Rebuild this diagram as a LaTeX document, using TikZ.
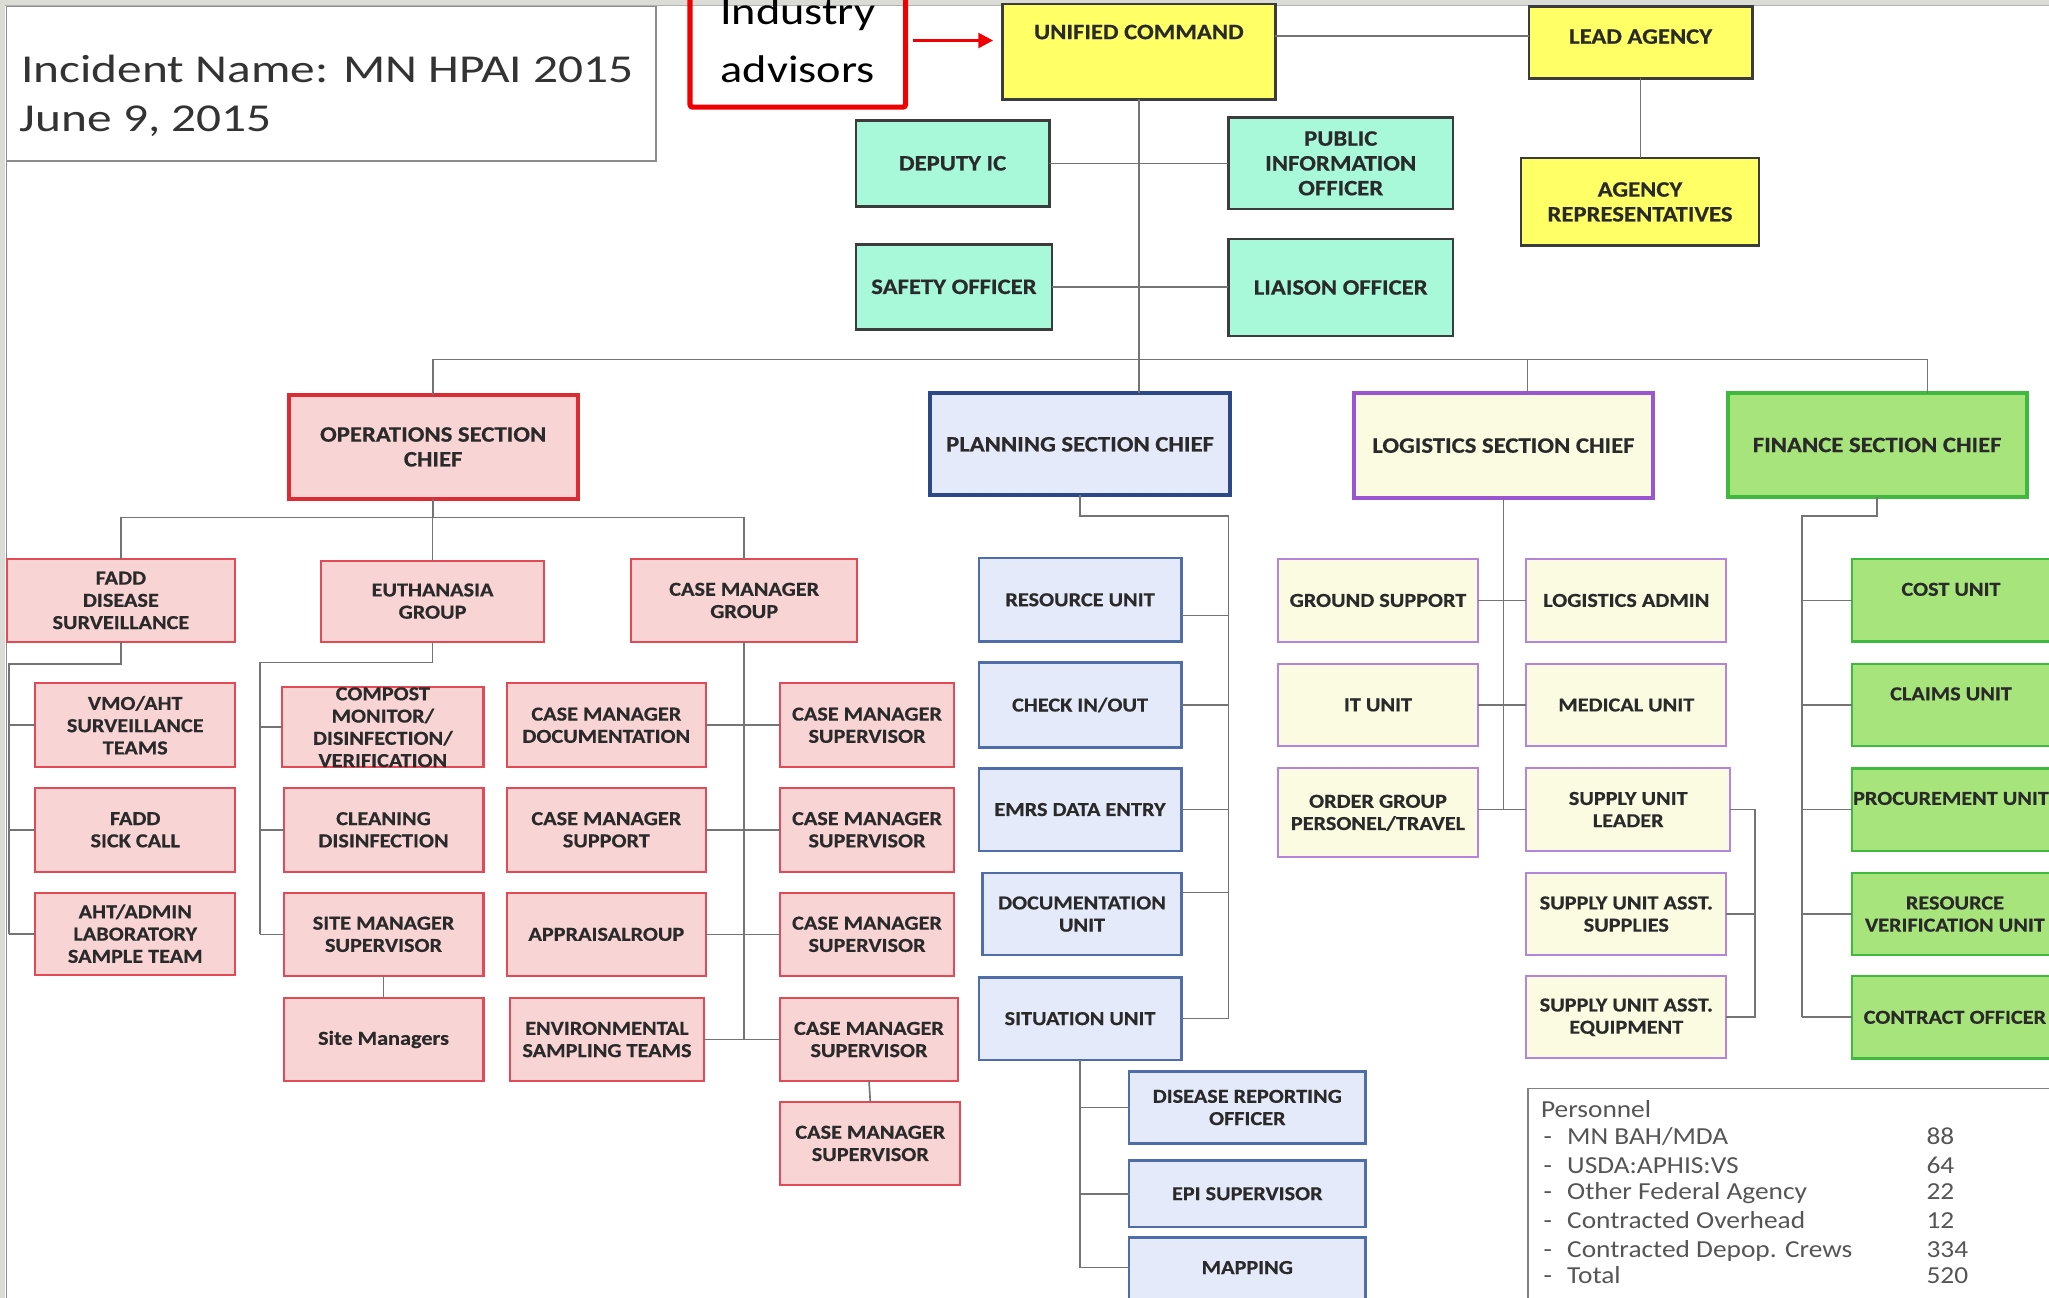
\documentclass[tikz,border=0pt]{standalone}
\usepackage{fontspec}
\setmainfont{Carlito}[FakeStretch=1.12, BoldFeatures={FakeBold=0.5}]
\newfontfamily\titlefont{Carlito}[FakeStretch=1.25]
\newfontfamily\indfont{Carlito}[FakeStretch=1.2]
\usetikzlibrary{calc,arrows.meta}
\newcommand{\bxfont}{\fontsize{10.8}{12.1}\selectfont\bfseries}
\newcommand{\bigfont}{\fontsize{12}{13.5}\selectfont\bfseries}
\newcommand{\bx}[7]{\node[#1, minimum width={(#5-(#3))*0.025cm}, minimum height={(#6-(#4))*0.025cm}] (#2) at ({(#3+#5)/2},{(#4+#6)/2}) {#7};}
\definecolor{yelF}{HTML}{FFFF66}
\definecolor{topB}{HTML}{3C3C3C}
\definecolor{mintF}{HTML}{A8F8DA}
\definecolor{opsF}{HTML}{F9D4D5}
\definecolor{opsB}{HTML}{E24A55}
\definecolor{opsCB}{HTML}{DC2B33}
\definecolor{planF}{HTML}{E5EAFA}
\definecolor{planB}{HTML}{4F6DA8}
\definecolor{planCB}{HTML}{2C4888}
\definecolor{logF}{HTML}{FBFBE2}
\definecolor{logB}{HTML}{B585DA}
\definecolor{logCB}{HTML}{9B55D0}
\definecolor{finF}{HTML}{A8E47C}
\definecolor{finB}{HTML}{3FBA3F}
\definecolor{lineC}{HTML}{747474}
\definecolor{txt}{HTML}{2A2A2A}
\definecolor{persT}{HTML}{555555}
\definecolor{frameC}{HTML}{DCDCD6}
\definecolor{indR}{HTML}{F00000}
\tikzset{
  basebox/.style={rectangle, inner sep=0pt, outer sep=0pt, align=center, font=\bxfont, text=txt},
  bt/.style={inner sep=0pt, align=center, font=\bxfont, text=txt},
  btbig/.style={inner sep=0pt, align=center, font=\bigfont, text=txt},
  yelbox/.style={basebox, font=\bigfont, fill=yelF, draw=topB, line width=1.4pt},
  mintbox/.style={basebox, font=\bigfont, fill=mintF, draw=topB, line width=1.4pt},
  opschief/.style={basebox, font=\bigfont, fill=opsF, draw=opsCB, line width=2.2pt},
  planchief/.style={basebox, font=\bigfont, fill=planF, draw=planCB, line width=2.2pt},
  logchief/.style={basebox, font=\bigfont, fill=logF, draw=logCB, line width=2.2pt},
  finchief/.style={basebox, font=\bigfont, fill=finF, draw=finB, line width=2.2pt},
  opsbox/.style={basebox, fill=opsF, draw=opsB, line width=1.1pt},
  planbox/.style={basebox, fill=planF, draw=planB, line width=1.3pt},
  logbox/.style={basebox, fill=logF, draw=logB, line width=1.1pt},
  finbox/.style={basebox, fill=finF, draw=finB, line width=1.3pt},
  titlebox/.style={rectangle, inner sep=0pt, draw=black!45, line width=1pt},
  persbox/.style={rectangle, inner sep=0pt, draw=black!50, line width=1pt, fill=white},
  indbox/.style={rectangle, inner sep=0pt, draw=indR, line width=2.8pt, rounded corners=1.5pt},
  indtxt/.style={inner sep=0pt, font=\indfont\fontsize{21}{25}\selectfont, text=black},
  titletxt/.style={inner sep=0pt, font=\titlefont\fontsize{21.5}{26}\selectfont, text=black!80},
  perstxt/.style={inner sep=0pt, font=\fontsize{13.3}{16}\selectfont, text=persT},
  conn/.style={draw=lineC, line width=0.9pt},
  indarrow/.style={draw=indR, line width=1.6pt, -{Triangle[length=8pt,width=8pt]}}
}
\begin{document}
\begin{tikzpicture}[x=0.025cm,y=-0.025cm]
\useasboundingbox (0,0) rectangle (1568,993);
\clip (0,0) rectangle (1568,993);
\fill[white] (0,0) rectangle (1568,993);
% screen frame
\fill[frameC] (0,0) rectangle (1568,4);
\fill[frameC] (0,0) rectangle (4,993);
\draw[black!45, line width=0.8pt] (5,4) -- (5,993);
\draw[black!30, line width=0.6pt] (4,4.5) -- (1568,4.5);

% title
\bx{titlebox}{title}{5}{5}{502}{123}{}
\node[titletxt, anchor=base west] (t1) at (16,63) {Incident Name: MN HPAI 2015};
\node[titletxt, anchor=base west] (t2) at (15,101) {June 9, 2015};

% industry advisors
\bx{indbox}{ind}{528}{-30}{693}{82}{}
\node[indtxt, anchor=base] (indA) at (610.5,19) {Industry};
\node[indtxt, anchor=base] (indB) at (610.5,63) {advisors};

% command staff
\bx{yelbox}{uc}{767}{3}{976}{76}{}
\node[btbig] (ucT) at ($(uc.center)+(0,-15)$) {UNIFIED COMMAND};
\bx{yelbox}{lead}{1170}{5}{1341}{60}{}
\node[btbig] (leadT) at ($(lead.center)+(0,-4.5)$) {LEAD AGENCY};
\bx{yelbox}{agrep}{1164}{121}{1346}{188}{AGENCY\\REPRESENTATIVES}
\bx{mintbox}{dep}{655}{92}{803}{158}{DEPUTY IC}
\bx{mintbox}{pio}{940}{90}{1112}{160}{PUBLIC\\INFORMATION\\OFFICER}
\bx{mintbox}{safe}{655}{187}{805}{252}{SAFETY OFFICER}
\bx{mintbox}{liai}{940}{183}{1112}{257}{LIAISON OFFICER}

% section chiefs
\bx{opschief}{ops}{221}{302}{442}{382}{OPERATIONS SECTION\\CHIEF}
\bx{planchief}{plan}{712}{301}{941}{379}{PLANNING SECTION CHIEF}
\bx{logchief}{logs}{1036}{301}{1265}{381}{LOGISTICS SECTION CHIEF}
\bx{finchief}{fin}{1322}{301}{1551}{380}{FINANCE SECTION CHIEF}

% operations
\bx{opsbox}{fadd}{5}{428}{180}{491}{FADD\\DISEASE\\SURVEILLANCE}
\bx{opsbox}{euth}{246}{429}{416}{491}{EUTHANASIA\\GROUP}
\bx{opsbox}{cmg}{483}{428}{656}{491}{CASE MANAGER\\GROUP}
\bx{opsbox}{vmo}{27}{523}{180}{587}{VMO/AHT\\SURVEILLANCE\\TEAMS}
\bx{opsbox}{sick}{27}{603}{180}{667}{FADD\\SICK CALL}
\bx{opsbox}{aht}{27}{683}{180}{746}{AHT/ADMIN\\LABORATORY\\SAMPLE TEAM}
\bx{opsbox}{comp}{216}{526}{370}{587}{COMPOST\\MONITOR/\\DISINFECTION/\\VERIFICATION}
\bx{opsbox}{clean}{217}{603}{370}{667}{CLEANING\\DISINFECTION}
\bx{opsbox}{smsup}{217}{683}{370}{747}{SITE MANAGER\\SUPERVISOR}
\bx{opsbox}{sitem}{217}{764}{370}{827}{Site Managers}
\bx{opsbox}{cmdoc}{388}{523}{540}{587}{CASE MANAGER\\DOCUMENTATION}
\bx{opsbox}{cmsupp}{388}{603}{540}{667}{CASE MANAGER\\SUPPORT}
\bx{opsbox}{appr}{388}{683}{540}{747}{APPRAISALROUP}
\bx{opsbox}{env}{390}{764}{539}{827}{ENVIRONMENTAL\\SAMPLING TEAMS}
\bx{opsbox}{cmsA}{597}{523}{730}{587}{CASE MANAGER\\SUPERVISOR}
\bx{opsbox}{cmsB}{597}{603}{730}{667}{CASE MANAGER\\SUPERVISOR}
\bx{opsbox}{cmsC}{597}{683}{730}{747}{CASE MANAGER\\SUPERVISOR}
\bx{opsbox}{cmsD}{597}{764}{733}{827}{CASE MANAGER\\SUPERVISOR}
\bx{opsbox}{cmsE}{597}{843}{735}{907}{CASE MANAGER\\SUPERVISOR}

% planning
\bx{planbox}{ru}{749}{427}{904}{491}{RESOURCE UNIT}
\bx{planbox}{cio}{749}{507}{904}{572}{CHECK IN/OUT}
\bx{planbox}{emrs}{749}{588}{904}{651}{EMRS DATA ENTRY}
\bx{planbox}{doc}{752}{668}{904}{731}{DOCUMENTATION\\UNIT}
\bx{planbox}{sit}{749}{748}{904}{811}{SITUATION UNIT}
\bx{planbox}{dro}{864}{820}{1045}{875}{DISEASE REPORTING\\OFFICER}
\bx{planbox}{epi}{864}{888}{1045}{939}{EPI SUPERVISOR}
\bx{planbox}{mapp}{864}{947}{1045}{1000}{}
\node[bt] (mappT) at ($(mapp.center)+(0,-3.5)$) {MAPPING};

% logistics
\bx{logbox}{gs}{978}{428}{1131}{491}{GROUND SUPPORT}
\bx{logbox}{la}{1168}{428}{1321}{491}{LOGISTICS ADMIN}
\bx{logbox}{itu}{978}{508}{1131}{571}{IT UNIT}
\bx{logbox}{med}{1168}{508}{1321}{571}{MEDICAL UNIT}
\bx{logbox}{og}{978}{588}{1131}{656}{ORDER GROUP\\PERSONEL/TRAVEL}
\bx{logbox}{sul}{1168}{588}{1324}{651}{SUPPLY UNIT\\LEADER}
\bx{logbox}{sus}{1168}{668}{1321}{731}{SUPPLY UNIT ASST.\\SUPPLIES}
\bx{logbox}{sue}{1168}{747}{1321}{810}{SUPPLY UNIT ASST.\\EQUIPMENT}

% finance
\bx{finbox}{cost}{1417}{428}{1575}{491}{}
\node[bt] (costT) at ($(cost.center)+(-3,-8.5)$) {COST UNIT};
\bx{finbox}{claims}{1417}{508}{1575}{571}{}
\node[bt] (claimsT) at ($(claims.center)+(-3,-8.5)$) {CLAIMS UNIT};
\bx{finbox}{proc}{1417}{588}{1575}{651}{}
\node[bt] (procT) at ($(proc.center)+(-3,-8.5)$) {PROCUREMENT UNIT};
\bx{finbox}{rvu}{1417}{668}{1575}{731}{RESOURCE\\VERIFICATION UNIT}
\bx{finbox}{co}{1417}{747}{1575}{810}{CONTRACT OFFICER}

% personnel
\bx{persbox}{pers}{1169}{833}{1600}{1010}{}
\node[perstxt, anchor=base west] (p0) at (1179,855) {Personnel};
\foreach \yy/\lab/\num [count=\i] in {876/{MN BAH/MDA}/88, 898/USDA:APHIS:VS/64, 918/Other Federal Agency/22, 940/Contracted Overhead/12, 962/Contracted Depop. Crews/334, 982/Total/520}{
  \node[perstxt, anchor=base west] (pb\i) at (1181,\yy) {-};
  \node[perstxt, anchor=base west] (pl\i) at (1199,\yy) {\lab};
  \node[perstxt, anchor=base west] (pn\i) at (1474,\yy) {\num};
}

% ---------- connectors ----------
\draw[indarrow] ($(ind.east)+(4,5)$) -- ($(uc.west)+(-7,-8.5)$);
\path ($(lead.west)+(0,-5)$) coordinate (leadW);
\draw[conn] (leadW) -- (leadW -| uc.east);
\draw[conn] (lead.south) -- (lead.south |- agrep.north);
\draw[conn] (uc.south) -- (uc.south |- plan.north);
\draw[conn] (dep.east) -- (dep.east -| pio.west);
\draw[conn] (safe.east) -- (safe.east -| liai.west);
\coordinate (busL) at (331.5,275);
\coordinate (busLog) at (1169,275);
\coordinate (busR) at (1475,275);
\draw[conn] (ops.north) -- (busL) -- (busR) -- (busR |- fin.north);
\draw[conn] (busLog) -- (busLog |- logs.north);

% operations connectors
\coordinate (opsBus) at (331.5,396);
\draw[conn] (ops.south) -- (opsBus);
\draw[conn] (fadd.north) -- (fadd.north |- opsBus) -- (cmg.north |- opsBus) -- (cmg.north);
\draw[conn] (euth.north) -- (euth.north |- opsBus);
\coordinate (faddL) at (7,508);
\draw[conn] (fadd.south) |- (faddL) -- (faddL |- aht.west);
\draw[conn] (vmo.west) -- (vmo.west -| faddL);
\draw[conn] (sick.west) -- (sick.west -| faddL);
\draw[conn] (aht.west) -- (aht.west -| faddL);
\coordinate (euthL) at (199,507);
\draw[conn] (euth.south) |- (euthL) -- (euthL |- smsup.west);
\draw[conn] (comp.west) -- (comp.west -| euthL);
\draw[conn] (clean.west) -- (clean.west -| euthL);
\draw[conn] (smsup.west) -- (smsup.west -| euthL);
\draw[conn] (smsup.south) -- (smsup.south |- sitem.north);
\draw[conn] (cmg.south) -- (cmg.south |- env.east);
\draw[conn] (cmdoc.east) -- (cmdoc.east -| cmsA.west);
\draw[conn] (cmsupp.east) -- (cmsupp.east -| cmsB.west);
\draw[conn] (appr.east) -- (appr.east -| cmsC.west);
\draw[conn] (env.east) -- (env.east -| cmsD.west);
\draw[conn] (cmsD.south) -- (cmsE.north);

% planning connectors
\coordinate (planR) at (940,395);
\draw[conn] (plan.south) |- (planR) -- (planR |- sit.east);
\path ($(ru.east)+(0,12)$) coordinate (ruC);
\draw[conn] (ruC) -- (ruC -| planR);
\draw[conn] (cio.east) -- (cio.east -| planR);
\draw[conn] (emrs.east) -- (emrs.east -| planR);
\path ($(doc.east)+(0,-16.5)$) coordinate (docC);
\draw[conn] (docC) -- (docC -| planR);
\draw[conn] (sit.east) -- (sit.east -| planR);
\path (sit.south |- 0,970) coordinate (sitB);
\draw[conn] (sit.south) -- (sitB) -- (sitB -| mapp.west);
\draw[conn] (dro.west) -- (dro.west -| sit.south);
\draw[conn] (epi.west) -- (epi.west -| sit.south);

% logistics connectors
\draw[conn] (logs.south) -- (logs.south |- sul.west);
\draw[conn] (gs.east) -- (gs.east -| la.west);
\draw[conn] (itu.east) -- (itu.east -| med.west);
\draw[conn] (sul.west) -- (sul.west -| og.east);
\coordinate (supR) at (1343,619.5);
\draw[conn] (sul.east) -- (supR) -- (supR |- sue.east) -- (sue.east);
\draw[conn] (sus.east) -- (sus.east -| supR);

% finance connectors
\coordinate (finL) at (1379,395);
\draw[conn] (fin.south) |- (finL) -- (finL |- co.west);
\draw[conn] (cost.west) -- (cost.west -| finL);
\draw[conn] (claims.west) -- (claims.west -| finL);
\draw[conn] (proc.west) -- (proc.west -| finL);
\draw[conn] (rvu.west) -- (rvu.west -| finL);
\draw[conn] (co.west) -- (co.west -| finL);
\end{tikzpicture}
\end{document}
